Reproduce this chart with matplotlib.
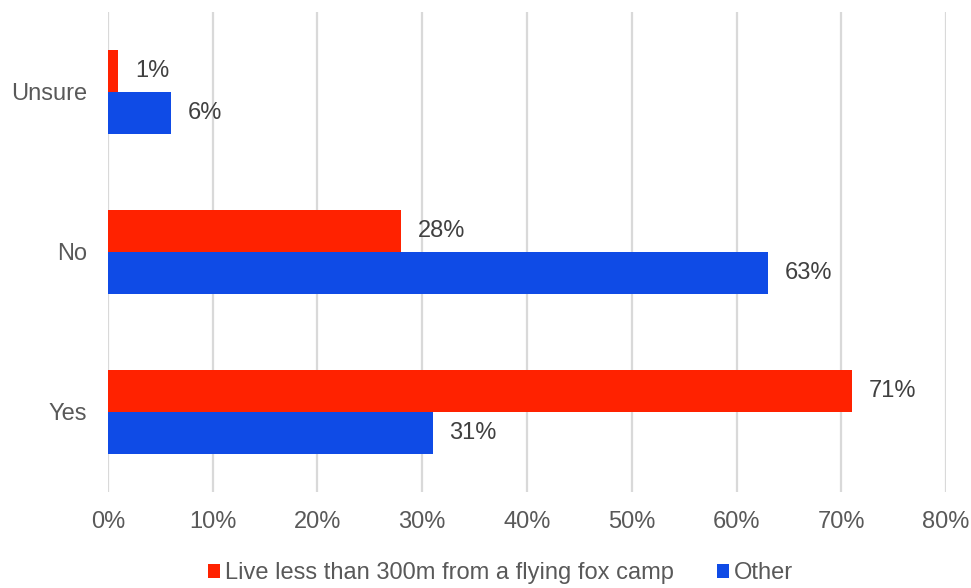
import matplotlib.pyplot as plt
import numpy as np

plt.rcParams['font.family'] = ['Liberation Sans', 'DejaVu Sans']

# survey answers, bottom to top
categories = ['Yes', 'No', 'Unsure']
near_camp = [71, 28, 1]
other = [31, 63, 6]
series_names = ['Live less than 300m from a flying fox camp', 'Other']
x_ticks = [0, 10, 20, 30, 40, 50, 60, 70, 80]

red = '#FF2200'
blue = '#0F4BE6'
text_col = '#595959'

fig = plt.figure(figsize=(9.71, 5.88), dpi=100)
ax = fig.add_axes([0.1112, 0.1633, 0.8631, 0.8163])

y = np.arange(len(categories))
h = 0.2625

b1 = ax.barh(y + h / 2, near_camp, height=h, color=red, label=series_names[0])
b2 = ax.barh(y - h / 2, other, height=h, color=blue, label=series_names[1])

for bars, vals in [(b1, near_camp), (b2, other)]:
    for bar, v in zip(bars, vals):
        ax.annotate(f'{v}%', (v, bar.get_y() + bar.get_height() / 2),
                    xytext=(12, 0), textcoords='offset points',
                    va='center', ha='left', fontsize=17, color='#404040')

ax.set_xlim(0, 80)
ax.set_ylim(-0.5, 2.5)
ax.set_xticks(x_ticks)
ax.set_xticklabels([f'{t}%' for t in x_ticks], fontsize=17, color=text_col)
ax.set_yticks(y)
ax.set_yticklabels(categories, fontsize=17, color=text_col)
ax.tick_params(axis='x', length=0, pad=14)
ax.tick_params(axis='y', length=0, pad=15)

ax.grid(axis='x', color='#D9D9D9', linewidth=1.6)
ax.set_axisbelow(True)
for s in ax.spines.values():
    s.set_visible(False)

fig.legend(handles=[b1, b2], loc='center', bbox_to_anchor=(0.5155, 0.025),
           ncol=2, frameon=False, fontsize=17, handlelength=0.5,
           handleheight=0.5, handletextpad=0.2, columnspacing=1.86,
           labelcolor=text_col)

fig.savefig('out.png', dpi=100)
